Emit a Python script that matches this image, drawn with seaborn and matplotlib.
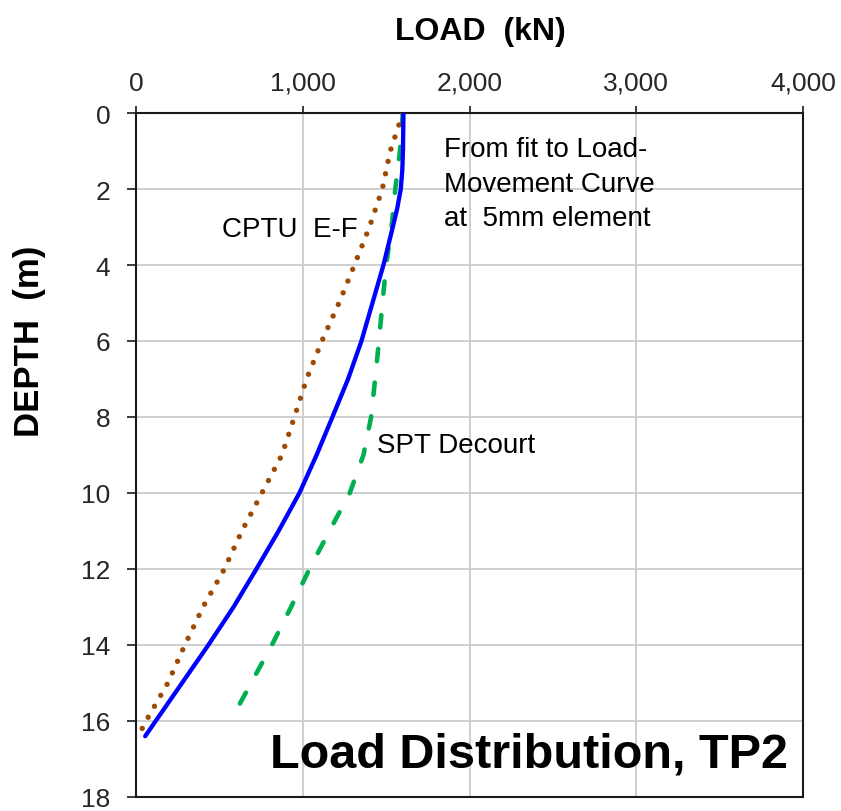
import matplotlib
matplotlib.use("Agg")
import matplotlib.pyplot as plt
import seaborn as sns
import pandas as pd

# ---- data ----
fit_depth = [0, 1, 1.5, 2, 2.5, 3, 3.5, 4, 5, 6, 7, 8, 9, 10, 11, 12, 13, 14, 15, 16, 16.4]
fit_load = [1604, 1601, 1597, 1588, 1567, 1540, 1512, 1484, 1418, 1352, 1272, 1178, 1083, 980, 855, 722, 585, 434, 276, 118, 55]

cptu_depth = [0, 1, 2, 3, 4, 5, 6, 7, 8, 9, 10, 11, 12, 13, 14, 15, 16, 16.3]
cptu_load = [1600, 1525, 1477, 1400, 1310, 1217, 1115, 1023, 950, 875, 755, 635, 530, 402, 293, 191, 60, 25]

spt_depth = [0, 1, 2, 3, 4, 5, 6, 7, 8, 9, 10, 11, 12, 13, 14, 15, 15.85]
spt_load = [1600, 1583, 1555, 1533, 1500, 1478, 1457, 1434, 1410, 1364, 1282, 1160, 1040, 930, 815, 690, 585]

x_ticks = [0, 1000, 2000, 3000, 4000]
x_tick_labels = ["0", "1,000", "2,000", "3,000", "4,000"]
y_ticks = [0, 2, 4, 6, 8, 10, 12, 14, 16, 18]
y_tick_labels = ["0", "2", "4", "6", "8", "10", "12", "14", "16", "18"]

sns.set_theme(style="white")
plt.rcParams["font.family"] = ["Liberation Sans", "DejaVu Sans"]
plt.rcParams["lines.scale_dashes"] = False

fig = plt.figure(figsize=(8.41, 8.12), dpi=100)
ax = fig.add_axes([136 / 841, 1 - 798 / 812, 667 / 841, 684 / 812])

df_fit = pd.DataFrame({"load": fit_load, "depth": fit_depth})
df_cptu = pd.DataFrame({"load": cptu_load, "depth": cptu_depth})
df_spt = pd.DataFrame({"load": spt_load, "depth": spt_depth})

sns.lineplot(data=df_spt, x="load", y="depth", sort=False, estimator=None, ax=ax,
             color="#00B050", lw=3.3, zorder=3)
ax.lines[-1].set_dashes((8.9, 15.5))
ax.lines[-1].set_dash_capstyle("round")

sns.lineplot(data=df_cptu, x="load", y="depth", sort=False, estimator=None, ax=ax,
             color="#9C4A06", lw=3.9, zorder=3)
ax.lines[-1].set_dashes((0.01, 9.1))
ax.lines[-1].set_dash_capstyle("round")

sns.lineplot(data=df_fit, x="load", y="depth", sort=False, estimator=None, ax=ax,
             color="#0000FF", lw=3.1, zorder=4)
ax.lines[-1].set_solid_capstyle("round")
ax.lines[-1].set_solid_joinstyle("round")

ax.set_xlim(0, 4000)
ax.set_ylim(18, 0)
ax.set_xticks(x_ticks)
ax.set_xticklabels(x_tick_labels)
ax.set_yticks(y_ticks)
ax.set_yticklabels(y_tick_labels)
ax.xaxis.tick_top()
ax.xaxis.set_label_position("top")

ax.grid(True, color="#CCCCCC", lw=1.3)
ax.set_axisbelow(True)
for s in ax.spines.values():
    s.set_color("#1a1a1a")
    s.set_linewidth(1.5)

ax.tick_params(axis="x", which="major", direction="out", length=5, width=1.2,
               color="#1a1a1a", labelsize=19, pad=8, top=True, bottom=False)
ax.tick_params(axis="y", which="major", direction="out", length=6.5, width=1.2,
               color="#1a1a1a", labelsize=19, pad=12, left=True)

ax.set_xlabel("LOAD  (kN)", fontsize=23, fontweight="bold", color="black")
ax.xaxis.set_label_coords(0.516, 1.108)
ax.set_ylabel("DEPTH  (m)", fontsize=25, fontweight="bold", color="black")
ax.yaxis.set_label_coords(-0.135, 0.667)

txt_kw = dict(fontsize=20, color="black", va="baseline", ha="left")
ax.text(1847, 1.13, "From fit to Load-", **txt_kw)
ax.text(1847, 2.04, "Movement Curve", **txt_kw)
ax.text(1847, 2.94, "at  5mm element", **txt_kw)
ax.text(514, 3.23, "CPTU  E-F", **txt_kw)
ax.text(1443, 8.93, "SPT Decourt", **txt_kw)
ax.text(3910, 17.2, "Load Distribution, TP2", fontsize=35, fontweight="bold",
        color="black", va="baseline", ha="right")

fig.savefig("out.png", dpi=100, facecolor="white")
